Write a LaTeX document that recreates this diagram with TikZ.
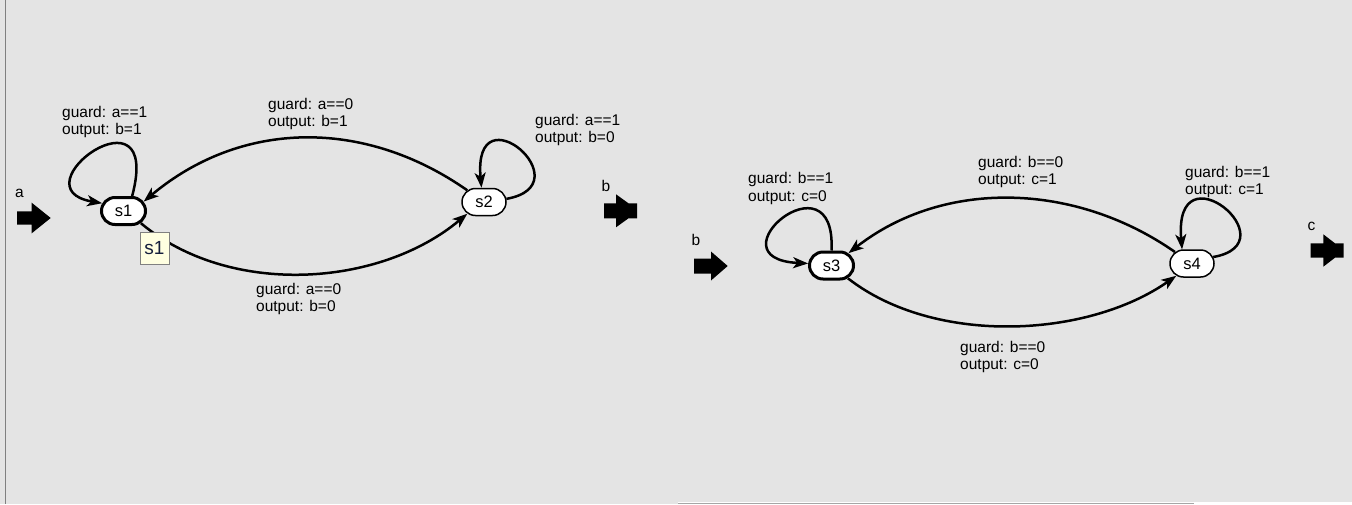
\documentclass[tikz,border=0pt]{standalone}
\usepackage{fontspec}
\setmainfont{Liberation Sans}
\usetikzlibrary{arrows.meta,shapes.misc}
\definecolor{canvas}{RGB}{228,228,228}
\definecolor{tipfill}{RGB}{255,255,225}
\definecolor{tiptext}{RGB}{20,30,60}
\tikzset{>={Stealth[length=15pt,width=11pt,inset=4pt]}}

\begin{document}
\begin{tikzpicture}[x=1pt,y=-1pt,
	state/.style={rounded rectangle, draw, fill=white, line width=1.5pt, minimum width=44pt, minimum height=27pt, inner sep=0pt, font=\fontsize{16.5}{18}\selectfont},
	initial/.style={state, line width=3pt},
	trans/.style={->, line width=2.5pt},
	guard/.style={anchor=north west, align=left, inner sep=0pt, font=\fontsize{15.5}{17.5}\selectfont},
	portlabel/.style={anchor=base west, inner sep=0pt, font=\fontsize{15.5}{17.5}\selectfont}]

	\useasboundingbox (0,0) rectangle (1352,504);
	\fill[canvas] (0,0) rectangle (1352,504);
	\draw[gray, line width=1pt] (5.5,0) -- (5.5,504);
	\fill[white] (678,502) rectangle (1352,504);
	\fill[gray!70] (678,502.5) rectangle (1194,504);

	% States
	
	\node[initial](s1) at (123.5,211) {s1};
	
	\node[state](s2) at (484,202) {s2};
	
	\node[initial](s3) at (831.5,265.5) {s3};
	
	\node[state](s4) at (1192,263.5) {s4};
	
	% Ports
	
	\node[portlabel](a) at (15,197.3) {a};
	\fill[shift={(17,218)}] (0,-6.7) -- (14.7,-6.7) -- (14.7,-15.3) -- (33.7,0) -- (14.7,15.3) -- (14.7,6.7) -- (0,6.7) -- cycle;
	
	\node[portlabel](b-out) at (601.5,191) {b};
	\fill[shift={(604,210.8)}] (0,-7.5) -- (12,-7.5) -- (12,-16.5) -- (24.5,-7.5) -- (33,-7.5) -- (33,7.5) -- (24.5,7.5) -- (12,16.5) -- (12,7.5) -- (0,7.5) -- cycle;
	
	\node[portlabel](b-in) at (691.5,245) {b};
	\fill[shift={(694,266)}] (0,-7.5) -- (17,-7.5) -- (17,-14.5) -- (33.7,0) -- (17,14.5) -- (17,7.5) -- (0,7.5) -- cycle;
	
	\node[portlabel](c) at (1307.5,230.7) {c};
	\fill[shift={(1310.5,250.5)}] (0,-7.2) -- (12.8,-7.2) -- (12.8,-16.2) -- (24.5,-7.2) -- (33,-7.2) -- (33,7.2) -- (24.5,7.2) -- (12.8,16.2) -- (12.8,7.2) -- (0,7.2) -- cycle;
	
	% Guards
	
	\node[guard](g11) at (62,105.7) {guard: a==1\\output: b=1};
	
	\node[guard](g21) at (268,98) {guard: a==0\\output: b=1};
	
	\node[guard](g22) at (535,114) {guard: a==1\\output: b=0};
	
	\node[guard](g12) at (256,283) {guard: a==0\\output: b=0};
	
	\node[guard](g33) at (748,172.3) {guard: b==1\\output: c=0};
	
	\node[guard](g43) at (978,156) {guard: b==0\\output: c=1};
	
	\node[guard](g44) at (1185,165.7) {guard: b==1\\output: c=1};
	
	\node[guard](g34) at (960,341) {guard: b==0\\output: c=0};
	
	% Arrows
	
	\draw[trans] (s1.60) .. controls +(31,-116) and +(-88,-15) .. (s1.160);
	\draw[trans] (s1.-35) to[out=-40, in=-140, looseness=0.9] (s2.-145);
	\draw[trans] (s2.145) to[out=145, in=40] (s1.25);
	\draw[trans] (s2.8) .. controls +(79,-14) and +(-9,-100) .. (s2.100);
	
	\draw[trans] (s3.90) .. controls +(5,-100) and +(-100,-5) .. (s3.175);
	\draw[trans] (s3.-38) to[out=-38, in=-145, looseness=0.85] (s4.-142);
	\draw[trans] (s4.146) to[out=145, in=38, looseness=0.95] (s3.36);
	\draw[trans] (s4.17) .. controls +(79,-14) and +(-9,-105) .. (s4.125);
	
	% Tooltip
	
	\node[draw=gray, fill=tipfill, text=tiptext, minimum width=29pt, minimum height=32pt, inner sep=0pt, font=\fontsize{19}{21}\selectfont](tip) at (154.5,248) {s1};
	
\end{tikzpicture}
\end{document}
